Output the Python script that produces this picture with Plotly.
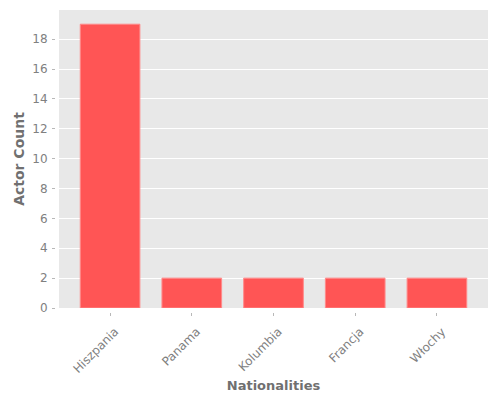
import plotly.graph_objects as go

# Actor counts per nationality
nationalities = ["Hiszpania", "Panama", "Kolumbia", "Francja", "Włochy"]
actor_counts = [19, 2, 2, 2, 2]

fig = go.Figure(
    go.Bar(
        x=nationalities,
        y=actor_counts,
        marker=dict(color="#ff5555", line=dict(color="#ff8a8a", width=1)),
        width=0.73,
    )
)

# page body adds an 8px offset, so the figure is 8px smaller each way
fig.update_layout(
    width=492,
    height=392,
    margin=dict(l=47, r=12, t=2, b=88),
    paper_bgcolor="white",
    plot_bgcolor="#e8e8e8",
    font=dict(family="DejaVu Sans", size=12, color="#808080"),
    showlegend=False,
)

# small gap between the axis ticks and the grey panel
fig.update_xaxes(
    title_text="<b>Nationalities</b>",
    title_font=dict(size=13, color="#707070"),
    title_standoff=6,
    domain=[4 / 433, 1],
    anchor="free",
    position=0,
    range=[-0.625, 4.625],
    tickangle=-45,
    ticks="outside",
    ticklen=3,
    tickcolor="#b8b8b8",
    ticklabelstandoff=4,
    ticklabelshift=5,
    showgrid=False,
    showline=False,
    zeroline=False,
    automargin=False,
)
fig.update_yaxes(
    title_text="<b>Actor Count</b>",
    title_font=dict(size=14, color="#707070"),
    title_standoff=3,
    domain=[4 / 302, 1],
    anchor="free",
    position=0,
    range=[0, 19.95],
    dtick=2,
    ticks="outside",
    ticklen=3,
    tickcolor="#b8b8b8",
    ticklabelstandoff=2,
    gridcolor="white",
    showline=False,
    zeroline=False,
    automargin=False,
)

fig.write_html("out.html")
